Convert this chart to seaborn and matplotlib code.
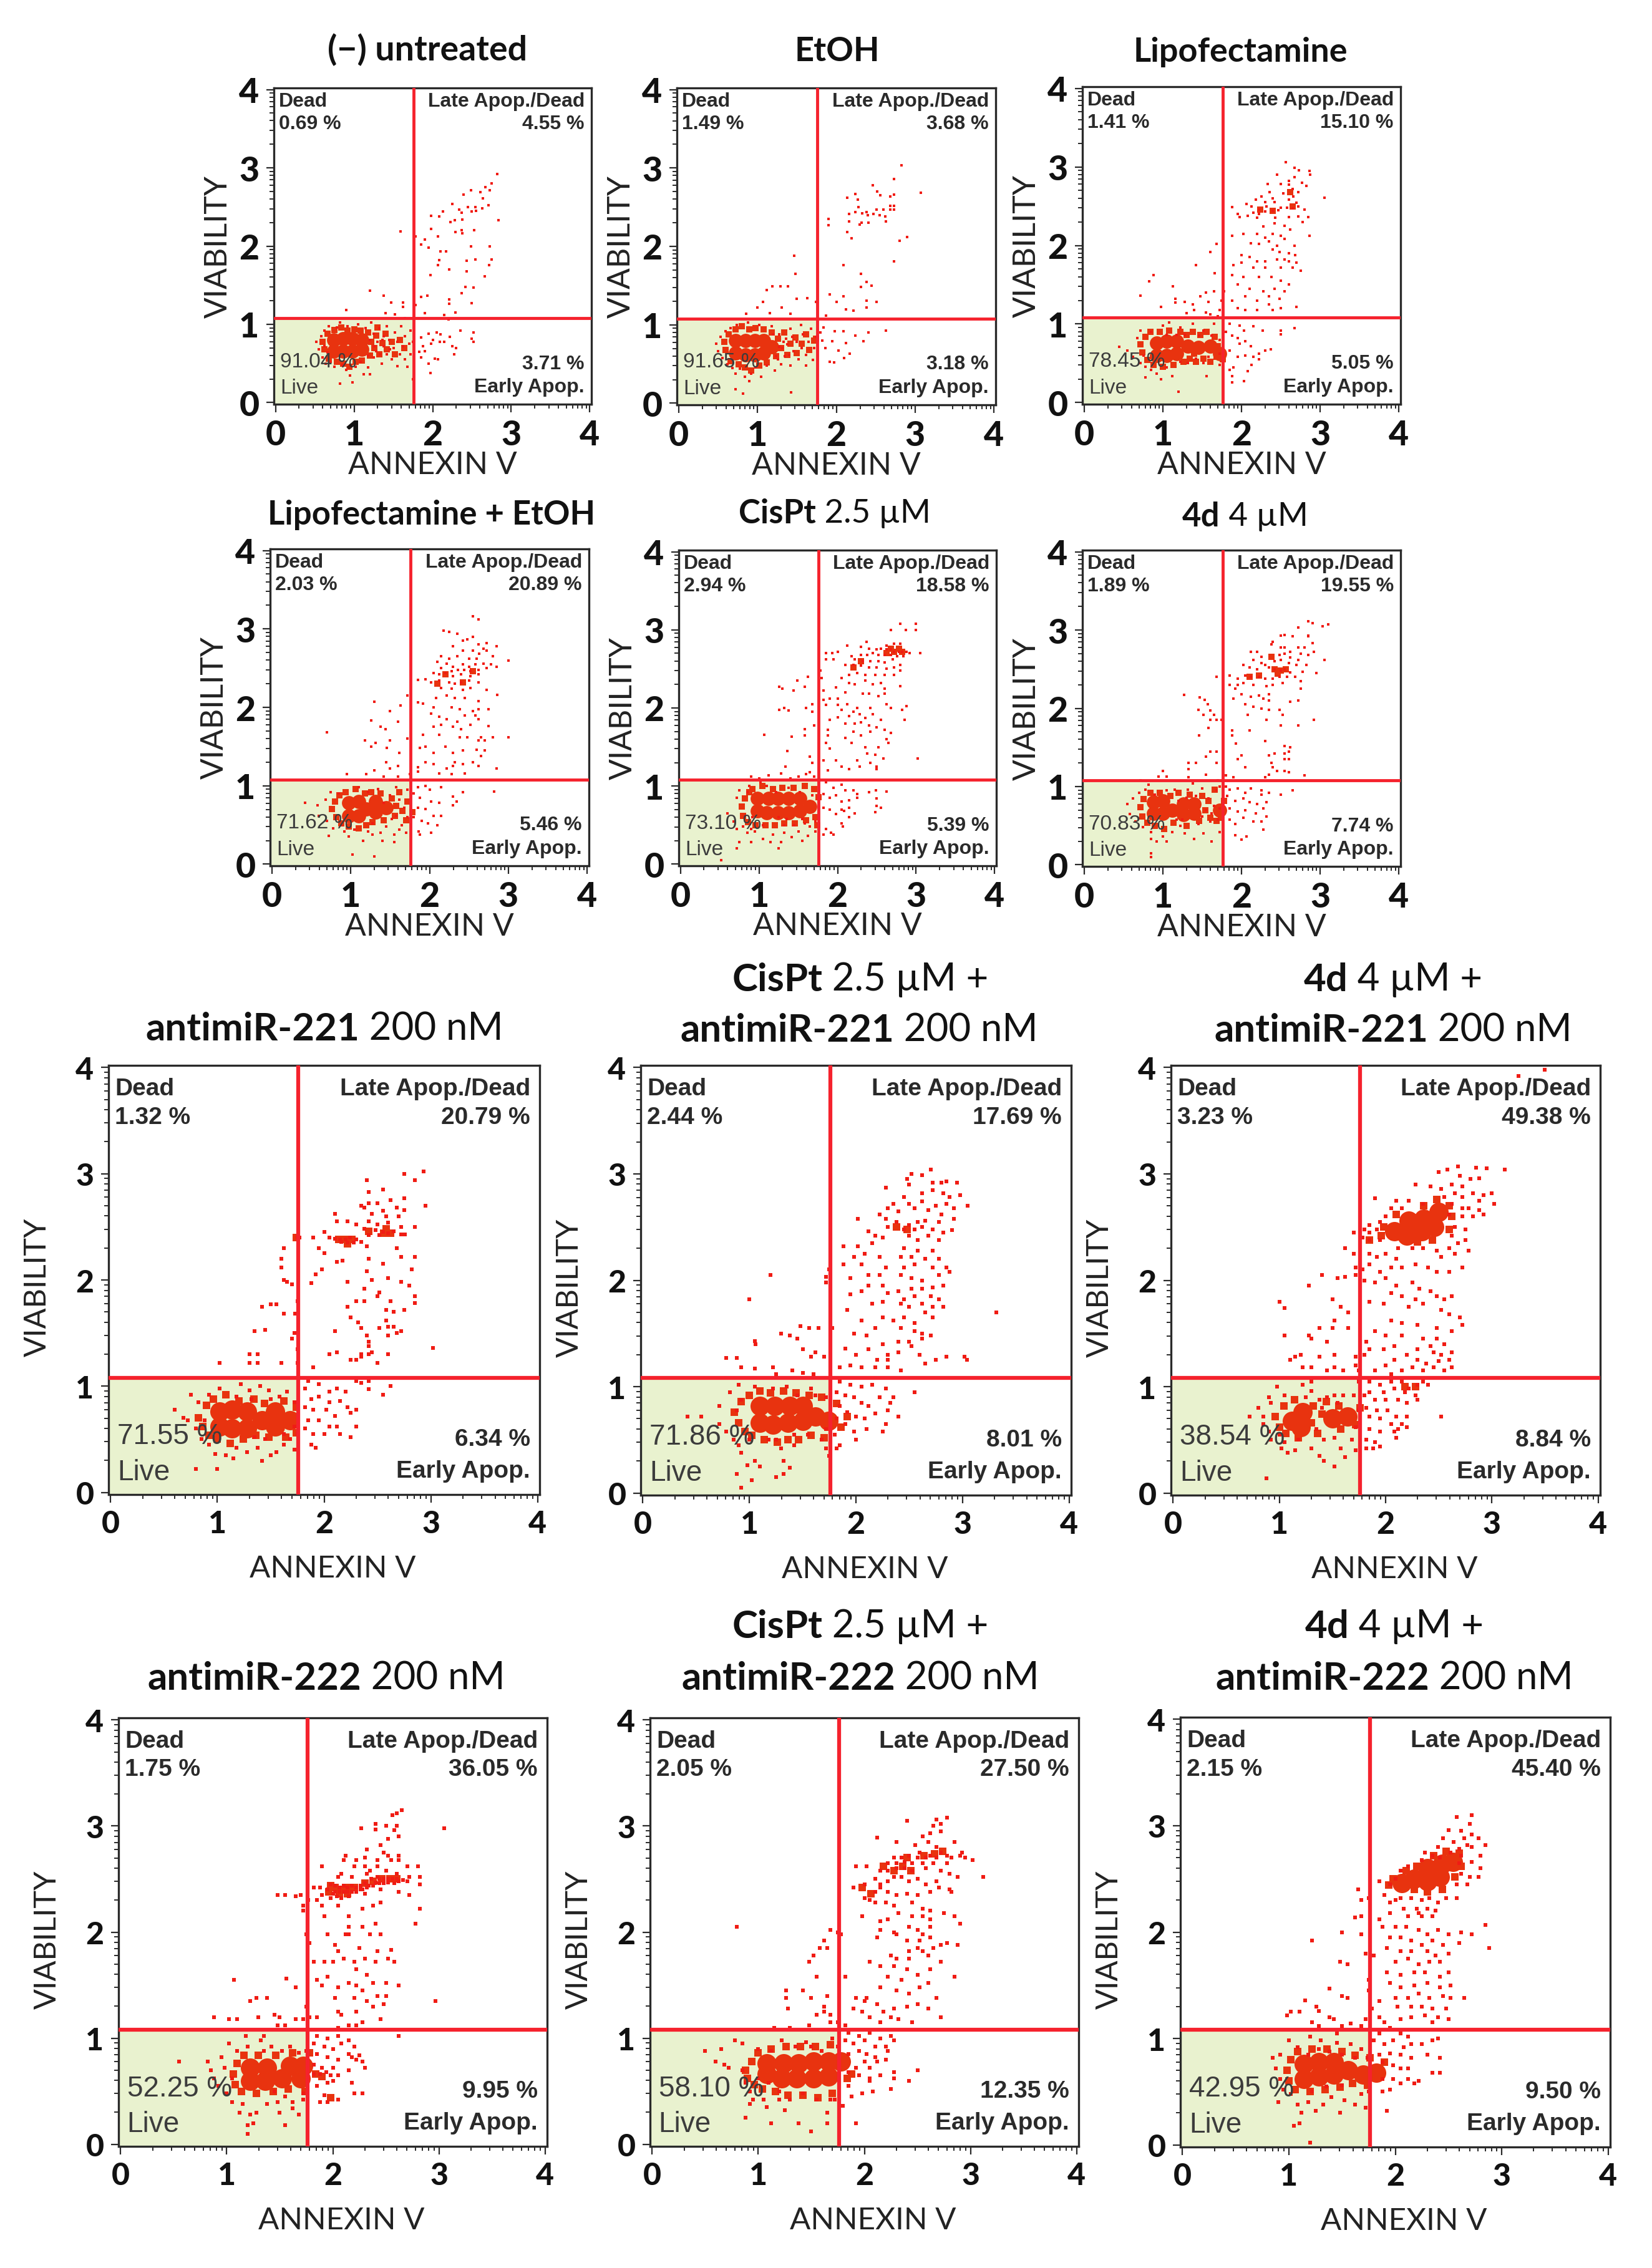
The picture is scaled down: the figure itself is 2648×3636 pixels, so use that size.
import numpy as np
import pandas as pd
import matplotlib
matplotlib.use("Agg")
import matplotlib.pyplot as plt
import seaborn as sns

# points as (annexin, viability)
# core = solid red masses, mass = dense squares around them, dots = single events
untreated_core = [(0.74,0.66),(0.74,0.80),(0.86,0.66),(0.86,0.82),(0.98,0.66),(0.98,0.82),(1.10,0.68),(1.10,0.80)]
untreated_mass = [(0.60,0.78),(0.62,0.68),(0.66,0.88),(0.68,0.56),(0.75,0.93),(0.78,0.52),(0.84,0.96),(0.86,0.50),(0.92,0.92),(0.94,0.46),(1.00,0.94),(1.02,0.52),(1.08,0.92),(1.10,0.54),(1.18,0.90),(1.20,0.60),(1.22,0.78),(1.26,0.70),(1.28,0.86),(1.32,0.62),(1.36,0.76),(1.40,0.88),(1.42,0.68),(1.48,0.78),(1.52,0.62),(1.58,0.80),(1.64,0.70),(1.30,0.96)]
untreated_dots = [(2.82,2.92),(2.75,2.80),(2.67,2.75),(2.73,2.71),(2.61,2.69),(2.49,2.71),(2.39,2.66),(2.64,2.61),(2.71,2.52),(2.63,2.48),(2.54,2.50),(2.50,2.44),(2.55,2.45),(2.45,2.50),(2.37,2.43),(2.34,2.47),(2.25,2.54),(2.23,2.31),(2.28,2.33),(2.38,2.34),(2.08,2.38),(1.98,2.39),(2.13,2.44),(2.84,2.33),(2.53,2.20),(2.37,2.20),(2.38,2.16),(2.29,2.18),(1.98,2.22),(2.07,2.12),(1.59,2.19),(1.78,2.12),(1.90,2.08),(1.85,2.02),(1.95,1.98),(2.49,2.00),(2.73,2.00),(2.10,1.93),(2.17,1.93),(2.08,1.82),(2.07,1.76),(2.43,1.81),(2.54,1.83),(2.75,1.83),(2.72,1.76),(2.21,1.70),(2.43,1.68),(1.97,1.63),(2.66,1.61),(2.42,1.48),(2.52,1.47),(2.37,1.40),(1.20,1.43),(1.93,1.37),(1.85,1.35),(1.38,1.37),(1.47,1.28),(1.62,1.28),(2.21,1.32),(2.21,1.26),(2.50,1.27),(2.29,1.15),(2.15,1.12),(2.20,1.06),(0.90,1.18),(1.62,1.22),(1.78,1.25),(1.90,1.14),(1.40,1.14),(1.52,1.13),(1.65,1.08),
    (1.85,0.83),(1.95,0.88),(2.05,0.90),(2.10,0.87),(2.00,0.80),(1.88,0.72),(1.90,0.66),(1.83,0.65),(1.98,0.75),(2.09,0.78),(2.15,0.78),(2.25,0.72),(2.30,0.70),(2.27,0.62),(2.22,0.84),(2.35,0.92),(2.52,0.90),(2.52,0.78),(2.50,0.82),(2.03,0.56),(1.95,0.50),(2.07,0.55),(1.85,0.58),(1.97,0.38),
    (0.52,0.78),(0.55,0.68),(0.58,0.85),(0.60,0.58),(0.62,0.92),(0.64,0.50),(0.68,0.98),(0.70,0.52),(0.75,0.46),(0.78,0.96),(0.82,0.24),(0.82,1.02),(0.85,0.48),(0.90,0.42),(0.92,0.98),(0.95,0.35),(0.98,0.26),(1.02,0.46),(1.05,1.00),(1.08,0.52),(1.12,0.36),(1.15,0.95),(1.18,0.45),(1.20,0.36),(1.22,1.02),(1.25,0.58),(1.25,0.88),(1.28,0.66),(1.30,0.78),(1.32,0.95),(1.35,0.50),(1.38,0.72),(1.38,0.85),(1.42,0.62),(1.42,0.98),(1.45,0.80),(1.48,0.55),(1.50,0.70),(1.52,0.90),(1.55,0.47),(1.55,0.78),(1.58,0.62),(1.60,0.98),(1.62,0.72),(1.65,0.85),(1.65,0.55),(1.68,0.46),(1.70,0.75),(1.72,0.62),(1.72,0.92),(1.75,0.30),(1.75,0.78),(1.20,0.80),(1.26,0.72),(1.33,0.62),(1.36,0.80),(1.46,0.68),(0.62,0.72),(0.66,0.64),(1.18,0.60)]

etoh_core = [(0.72,0.64),(0.72,0.80),(0.85,0.62),(0.85,0.80),(0.97,0.62),(0.97,0.80),(1.08,0.64),(1.08,0.80),(1.18,0.72)]
etoh_mass = [(0.58,0.78),(0.60,0.68),(0.64,0.88),(0.66,0.54),(0.72,0.94),(0.76,0.50),(0.80,0.98),(0.84,0.46),(0.90,0.94),(0.92,0.42),(0.98,0.96),(1.02,0.48),(1.08,0.94),(1.12,0.52),(1.18,0.90),(1.24,0.60),(1.26,0.82),(1.30,0.70),(1.34,0.90),(1.38,0.62),(1.42,0.76),(1.48,0.84),(1.50,0.64),(1.56,0.76),(1.62,0.88),(1.66,0.68),(1.72,0.80),(1.74,0.82)]
etoh_dots = [(2.83,3.03),(2.73,2.86),(2.46,2.78),(3.07,2.68),(2.73,2.66),(2.68,2.64),(2.52,2.70),(2.56,2.65),(2.24,2.67),(2.14,2.62),(2.27,2.60),(2.28,2.50),(2.73,2.52),(2.68,2.52),(2.73,2.47),(2.68,2.47),(2.60,2.47),(2.51,2.47),(2.24,2.44),(2.38,2.44),(2.33,2.42),(2.40,2.40),(2.47,2.41),(2.55,2.40),(2.62,2.38),(2.63,2.32),(2.16,2.41),(2.16,2.32),(2.30,2.28),(2.32,2.30),(2.41,2.30),(1.90,2.35),(1.90,2.27),(2.14,2.18),(2.19,2.10),(2.80,2.07),(2.90,2.12),(1.47,1.88),(2.73,1.81),(2.09,1.76),(2.31,1.65),(1.48,1.65),(2.38,1.55),(2.45,1.50),(2.31,1.48),
    (1.12,1.44),(1.19,1.49),(1.29,1.49),(1.39,1.49),(1.07,1.29),(1.00,1.22),(1.31,1.22),(1.50,1.33),(1.63,1.34),(1.74,1.29),(1.92,1.39),(2.00,1.29),(2.09,1.36),(2.12,1.20),(2.22,1.18),(2.38,1.31),(2.51,1.29),(2.38,1.22),(0.86,1.14),(1.16,1.15),(1.42,1.14),(1.87,1.12),
    (1.84,0.97),(1.98,0.92),(2.09,0.92),(2.41,0.90),(2.63,0.93),(2.24,0.86),(2.34,0.79),(1.95,0.79),(2.12,0.77),(2.03,0.67),(2.17,0.63),(2.10,0.58),(1.97,0.52),(1.92,0.53),(1.86,0.70),(1.82,0.80),(1.80,0.90),
    (0.48,0.76),(0.50,0.66),(0.53,0.85),(0.56,0.58),(0.60,0.92),(0.62,0.50),(0.66,0.96),(0.68,0.45),(0.72,0.38),(0.74,1.00),(0.72,0.18),(0.82,0.12),(0.78,0.44),(0.84,0.34),(0.88,1.03),(0.90,0.28),(0.92,0.38),(0.98,0.46),(1.02,1.00),(1.05,0.34),(1.12,0.48),(1.18,0.98),(1.22,0.42),(1.26,0.56),(1.28,0.88),(1.32,0.70),(1.35,0.60),(1.36,0.82),(1.42,0.48),(1.42,0.95),(1.46,0.66),(1.50,0.78),(1.52,0.56),(1.55,1.00),(1.56,0.70),(1.58,0.88),(1.62,0.48),(1.62,0.62),(1.65,0.78),(1.68,0.95),(1.70,0.55),(1.72,0.70),(1.74,0.85),(1.28,0.72),(1.38,0.75),(1.30,0.50),(1.44,0.85),(1.40,0.62),(1.43,0.14),(1.33,0.78),(1.20,0.88),(1.24,0.60)]

lipo_core = [(0.92,0.60),(0.92,0.76),(1.05,0.60),(1.05,0.78),(1.18,0.62),(1.18,0.78),(1.32,0.72),(1.45,0.70),(1.60,0.72),(1.72,0.62)]
lipo_mass = [(0.72,0.74),(0.74,0.64),(0.78,0.84),(0.80,0.54),(0.84,0.90),(0.88,0.48),(0.96,0.90),(1.00,0.46),(1.08,0.92),(1.14,0.48),(1.22,0.90),(1.26,0.52),(1.30,0.86),(1.34,0.56),(1.38,0.90),(1.42,0.52),(1.48,0.86),(1.52,0.56),(1.56,0.90),(1.60,0.52),(1.66,0.84),(1.68,0.58),(1.70,0.72),(1.40,0.62),(1.76,0.55),(2.24,2.46),(2.40,2.44),(2.65,2.50),(2.62,2.68)]
lipo_dots = [(2.56,3.06),(2.67,2.99),(2.73,2.96),(2.45,2.90),(2.86,2.95),(2.87,2.90),(2.67,2.87),(2.60,2.82),(2.77,2.80),(2.82,2.76),(2.33,2.78),(2.50,2.78),(2.60,2.77),(2.65,2.72),(2.36,2.68),(2.53,2.66),(2.72,2.68),(2.66,2.62),(2.25,2.62),(2.40,2.60),(2.18,2.58),(2.30,2.55),(2.42,2.55),(2.60,2.58),(2.70,2.54),(3.05,2.61),(2.06,2.53),(2.13,2.50),(2.22,2.46),(2.32,2.50),(2.50,2.48),(2.58,2.48),(2.65,2.47),(2.72,2.50),(2.80,2.46),(2.40,2.44),(2.47,2.45),(2.30,2.43),(2.22,2.40),(2.15,2.42),(1.88,2.49),(1.95,2.40),(1.98,2.36),(2.08,2.38),(2.20,2.35),(2.43,2.35),(2.60,2.36),(2.72,2.37),(2.85,2.36),(2.78,2.30),(2.42,2.28),(2.55,2.25),(2.28,2.24),(2.20,2.15),(2.30,2.10),(2.40,2.15),(2.50,2.12),(2.62,2.20),(2.86,2.12),(1.88,2.12),(2.02,2.15),(2.12,2.03),(2.22,2.02),(2.35,2.05),(2.45,2.00),(2.55,2.08),(2.67,2.00),(2.40,1.95),(2.48,1.92),(2.60,1.90),(2.68,1.88),(2.55,1.82),(2.00,1.88),(2.10,1.85),(2.20,1.80),(2.30,1.80),(2.45,1.82),(2.60,1.80),(2.70,1.78),(1.90,1.75),(2.00,1.78),(2.15,1.72),(2.30,1.72),(2.50,1.72),(2.65,1.72),(2.75,1.68),(1.88,1.62),(2.02,1.60),(2.22,1.60),(2.38,1.60),(2.50,1.55),(2.60,1.50),(1.95,1.50),(2.10,1.45),(2.28,1.42),(2.42,1.45),(2.55,1.42),(1.78,1.42),(1.88,1.30),(2.05,1.35),(2.20,1.30),(2.35,1.35),(2.48,1.32),(2.35,1.25),(2.40,1.18),(2.50,1.20),(2.70,1.22),(2.05,1.18),(2.20,1.18),(1.95,1.20),(1.75,1.30),(1.72,1.18),
    (1.68,2.02),(1.60,1.92),(1.42,1.75),(0.88,1.62),(0.83,1.54),(0.72,1.36),(1.13,1.48),(1.66,1.65),(1.65,1.42),(1.55,1.40),(1.48,1.35),(0.98,1.22),(1.16,1.32),(1.28,1.28),(1.38,1.25),(1.58,1.28),(1.16,1.27),(1.40,1.18),(1.55,1.15),(1.60,1.12),(1.70,1.10),(1.30,1.14),
    (1.85,1.00),(1.98,0.98),(2.03,0.92),(2.15,0.97),(2.27,0.92),(2.50,0.92),(2.67,0.95),(2.50,0.87),(1.80,0.90),(1.88,0.85),(1.95,0.82),(1.98,0.75),(2.05,0.78),(2.12,0.72),(2.22,0.62),(2.37,0.68),(2.30,0.66),(1.85,0.66),(1.95,0.58),(2.05,0.60),(2.15,0.58),(2.22,0.55),(2.13,0.48),(2.08,0.40),(1.90,0.45),(1.88,0.34),(1.88,0.26),(2.03,0.27),(1.85,0.42),
    (0.45,0.71),(0.55,0.66),(0.62,0.58),(0.68,0.82),(0.72,0.92),(0.72,0.50),(0.78,0.46),(0.78,0.32),(0.85,0.90),(0.85,0.42),(0.92,0.37),(0.98,0.30),(1.00,0.98),(1.05,0.45),(1.08,1.02),(1.12,0.34),(1.22,0.52),(1.22,0.96),(1.28,0.86),(1.32,0.50),(1.38,1.00),(1.42,0.56),(1.46,0.85),(1.52,0.50),(1.52,0.92),(1.56,0.34),(1.58,0.58),(1.62,0.85),(1.65,1.00),(1.72,0.48),(1.72,0.80),(1.72,0.62),(1.20,0.14),(0.76,0.60),(1.05,0.86),(1.18,0.86)]

lipo_etoh_core = [(0.98,0.62),(0.98,0.78),(1.10,0.62),(1.10,0.80),(1.20,0.70),(1.32,0.66),(1.32,0.80),(1.45,0.72)]
lipo_etoh_mass = [(0.76,0.70),(0.80,0.80),(0.82,0.60),(0.86,0.88),(0.88,0.52),(0.94,0.92),(0.98,0.48),(1.06,0.96),(1.10,0.46),(1.18,0.90),(1.20,0.50),(1.26,0.92),(1.28,0.54),(1.38,0.90),(1.42,0.56),(1.52,0.84),(1.56,0.62),(1.58,0.74),(1.62,0.92),(1.66,0.68),(1.70,0.56),(1.72,0.80),(1.78,0.66),(2.20,2.42),(2.42,2.32),(2.10,2.30),(2.55,2.46)]
lipo_etoh_dots = [(2.55,3.16),(2.62,3.12),(2.18,2.98),(2.25,2.96),(2.35,2.94),(2.55,2.90),(2.42,2.85),(2.48,2.87),(2.85,2.78),(2.72,2.82),(2.62,2.80),(2.68,2.75),(2.30,2.78),(2.42,2.72),(2.55,2.72),(2.63,2.68),(2.72,2.72),(2.80,2.65),(3.00,2.60),(2.15,2.65),(2.25,2.62),(2.35,2.65),(2.50,2.62),(2.60,2.62),(2.10,2.58),(2.22,2.56),(2.30,2.52),(2.42,2.55),(2.50,2.52),(2.58,2.55),(2.68,2.56),(2.78,2.55),(2.85,2.52),(2.15,2.50),(2.28,2.46),(2.36,2.48),(2.44,2.48),(2.52,2.46),(2.62,2.48),(2.72,2.50),(2.05,2.44),(2.12,2.42),(2.20,2.44),(2.30,2.40),(2.40,2.42),(2.52,2.40),(2.62,2.42),(1.85,2.35),(1.95,2.36),(2.02,2.32),(2.12,2.34),(2.25,2.32),(2.32,2.30),(2.40,2.32),(2.50,2.34),(2.62,2.32),(2.15,2.25),(2.28,2.24),(2.42,2.22),(2.52,2.25),(2.72,2.22),(1.72,2.15),(1.85,2.06),(1.92,2.05),(2.08,2.12),(2.22,2.15),(2.32,2.12),(2.45,2.12),(2.86,2.16),(2.62,2.08),(2.05,2.00),(2.28,2.00),(2.38,1.98),(2.55,1.95),(2.62,1.98),(2.75,1.98),(2.02,1.92),(2.12,1.88),(2.22,1.85),(2.35,1.82),(2.45,1.90),(2.58,1.90),(2.62,1.85),(2.05,1.75),(2.15,1.78),(2.30,1.75),(2.40,1.72),(2.52,1.78),(2.75,1.76),(2.65,1.62),(2.80,1.62),(1.92,1.65),(2.12,1.65),(2.38,1.62),(2.48,1.62),(2.62,1.58),(2.70,1.58),(1.95,1.50),(2.05,1.42),(2.20,1.50),(2.30,1.42),(2.42,1.45),(2.60,1.46),(2.70,1.45),(2.65,1.38),(3.00,1.62),(1.88,1.48),(2.32,1.30),(2.42,1.28),(2.30,1.25),(2.55,1.30),(2.62,1.25),(2.22,1.22),(2.05,1.28),(1.95,1.30),(1.85,1.24),(2.12,1.16),(2.28,1.15),(2.45,1.16),(2.85,1.22),(1.85,1.18),
    (0.70,1.68),(1.30,2.07),(1.63,2.02),(1.50,1.95),(1.26,1.83),(1.60,1.82),(1.38,1.75),(1.44,1.72),(1.32,1.55),(1.26,1.50),(1.18,1.58),(1.50,1.58),(1.46,1.48),(1.62,1.42),(1.72,1.60),(1.45,1.30),(1.60,1.25),(1.50,1.22),(0.95,1.15),(1.20,1.15),(1.30,1.20),(1.60,1.12),(1.75,1.15),(1.42,1.12),
    (1.85,0.98),(1.95,1.00),(2.00,0.95),(2.15,0.98),(2.42,0.92),(2.30,0.86),(2.82,0.93),(1.80,0.90),(1.88,0.85),(2.02,0.80),(2.12,0.78),(2.30,0.75),(2.34,0.80),(1.85,0.72),(1.95,0.70),(2.05,0.62),(2.15,0.62),(1.80,0.60),(1.90,0.55),(1.98,0.52),(2.10,0.50),(2.02,0.40),(1.86,0.42),(1.88,0.38),
    (0.42,0.78),(0.58,0.75),(0.60,0.62),(0.68,0.82),(0.70,0.55),(0.75,0.92),(0.78,0.46),(0.85,0.90),(0.92,0.42),(0.88,0.50),(0.72,0.36),(0.98,0.35),(1.05,0.44),(1.02,0.12),(1.10,0.98),(1.16,0.30),(1.22,0.92),(1.28,0.38),(1.28,0.52),(1.35,0.96),(1.40,0.30),(1.45,0.48),(1.50,0.88),(1.52,0.58),(1.55,0.38),(1.55,0.28),(1.58,0.98),(1.62,0.82),(1.65,0.50),(1.68,0.72),(1.72,0.95),(1.72,0.60),(1.58,0.62),(1.62,0.44),(1.22,0.42),(1.30,0.10),(1.38,0.40),(1.42,0.78),(1.70,0.40)]

cispt_core = [(0.98,0.68),(0.98,0.84),(1.10,0.66),(1.12,0.84),(1.24,0.66),(1.24,0.84),(1.38,0.66),(1.38,0.84),(1.52,0.68),(1.52,0.84),(1.65,0.74)]
cispt_mass = [(0.78,0.74),(0.80,0.62),(0.82,0.84),(0.86,0.54),(0.88,0.92),(0.92,0.96),(0.96,0.50),(1.04,1.00),(1.08,0.50),(1.18,0.96),(1.20,0.50),(1.30,0.98),(1.32,0.52),(1.44,0.98),(1.46,0.52),(1.58,1.00),(1.60,0.56),(1.70,0.96),(1.72,0.60),(1.74,0.50),(1.76,0.86),(2.62,2.70),(2.72,2.72),(2.82,2.72),(2.68,2.76),(2.78,2.76),(2.30,2.60),(2.20,2.52)]
cispt_dots = [(2.80,3.08),(3.00,3.08),(3.00,3.00),(2.68,3.00),(2.87,3.00),(2.37,2.85),(2.12,2.80),(2.62,2.80),(2.72,2.82),(2.80,2.82),(2.55,2.76),(2.62,2.75),(2.68,2.75),(2.72,2.72),(2.78,2.72),(2.82,2.72),(2.88,2.72),(2.92,2.70),(3.05,2.70),(2.30,2.78),(2.40,2.76),(2.50,2.75),(2.30,2.68),(2.38,2.68),(2.45,2.70),(2.52,2.68),(2.60,2.68),(2.68,2.68),(2.76,2.66),(2.84,2.66),(1.85,2.70),(1.93,2.70),(2.00,2.72),(2.18,2.66),(2.22,2.62),(2.32,2.60),(2.42,2.60),(2.52,2.60),(2.60,2.58),(2.70,2.62),(1.85,2.62),(1.95,2.62),(2.10,2.55),(2.20,2.55),(2.30,2.54),(2.40,2.52),(2.50,2.52),(2.62,2.50),(2.72,2.52),(2.80,2.55),(2.15,2.42),(2.25,2.45),(2.35,2.42),(2.48,2.42),(2.60,2.42),(2.72,2.42),(2.80,2.48),(2.05,2.38),(2.15,2.32),(2.22,2.30),(2.35,2.35),(2.45,2.30),(2.55,2.32),(2.60,2.25),(2.80,2.28),(1.98,2.26),(2.10,2.20),(2.32,2.18),(2.40,2.18),(2.60,2.18),(2.52,2.15),(1.78,2.48),(1.80,2.38),(1.82,2.22),(1.90,2.12),(1.82,2.10),(2.00,2.12),(1.85,2.04),(2.00,2.04),(2.12,2.05),(2.05,1.98),(2.25,2.00),(2.42,2.00),(2.62,2.05),(2.68,2.00),(2.88,2.02),(2.82,1.98),(2.20,1.95),(2.28,1.92),(2.15,1.90),(2.35,1.87),(2.45,1.92),(2.55,1.85),(2.85,1.85),(2.00,1.88),(1.90,1.85),(2.10,1.80),(2.22,1.80),(2.30,1.82),(2.40,1.78),(2.60,1.72),(2.68,1.68),(2.50,1.75),(1.88,1.72),(1.88,1.65),(2.20,1.70),(2.30,1.65),(2.42,1.70),(2.62,1.60),(2.65,1.55),(2.10,1.62),(2.18,1.55),(1.85,1.55),(1.90,1.48),(2.35,1.50),(2.38,1.42),(2.52,1.50),(2.48,1.40),(2.58,1.35),(1.98,1.33),(2.25,1.33),(2.42,1.30),(2.50,1.25),(3.02,1.35),(1.82,1.33),(1.88,1.20),(2.05,1.25),(2.15,1.22),(2.28,1.25),(2.50,1.22),
    (1.26,2.27),(1.49,2.35),(1.62,2.40),(1.58,2.27),(1.30,2.25),(1.44,2.22),(1.26,1.98),(1.32,2.00),(1.38,1.97),(1.60,2.00),(1.68,2.05),(1.68,1.95),(1.70,1.78),(1.58,1.73),(1.58,1.65),(1.07,1.66),(1.42,1.63),(1.36,1.45),(1.65,1.38),(1.68,1.30),(1.34,1.25),(1.65,1.18),(1.60,1.15),(1.70,1.12),(0.90,1.12),(1.00,1.10),(1.12,1.14),(1.28,1.16),(1.40,1.10),(1.50,1.12),(1.02,1.05),
    (1.85,1.05),(1.95,0.98),(2.05,1.02),(2.10,0.95),(2.20,0.95),(2.25,0.90),(2.40,0.92),(2.49,0.95),(2.62,0.93),(2.50,0.84),(2.25,0.85),(1.82,0.90),(1.90,0.85),(1.98,0.88),(2.05,0.80),(2.15,0.82),(2.50,0.75),(2.55,0.72),(2.48,0.67),(2.15,0.72),(2.05,0.70),(1.90,0.70),(1.82,0.72),(1.98,0.64),(2.08,0.68),(2.15,0.60),(2.22,0.65),(2.05,0.52),(2.07,0.48),(1.85,0.45),(1.92,0.40),(1.82,0.38),(1.95,0.38),
    (0.60,0.65),(0.68,0.55),(0.72,0.85),(0.75,0.95),(0.72,0.45),(0.80,0.48),(0.82,0.62),(0.85,0.92),(0.85,0.40),(0.88,1.00),(0.90,0.45),(0.95,0.42),(0.75,0.28),(0.90,0.28),(0.72,0.20),(0.52,0.05),(1.05,0.32),(1.05,0.50),(1.10,1.00),(1.15,0.28),(1.18,0.38),(1.22,0.92),(1.25,0.20),(1.28,0.28),(1.32,0.50),(1.32,0.40),(1.38,0.98),(1.42,0.35),(1.45,0.50),(1.50,0.42),(1.52,0.92),(1.55,0.30),(1.58,0.52),(1.62,0.36),(1.65,0.48),(1.68,0.88),(1.72,0.55),(1.72,0.42),(1.25,0.60),(1.35,0.58),(1.55,0.58),(0.92,0.60)]

d4_core = [(0.88,0.66),(0.88,0.80),(1.00,0.66),(1.00,0.82),(1.12,0.70),(1.26,0.64),(1.26,0.78),(1.40,0.66),(1.40,0.78),(1.72,0.70)]
d4_mass = [(0.72,0.74),(0.74,0.62),(0.76,0.84),(0.80,0.54),(0.84,0.92),(0.90,0.50),(0.96,0.92),(1.02,0.46),(1.10,0.88),(1.14,0.54),(1.20,0.92),(1.30,0.50),(1.34,0.90),(1.46,0.56),(1.50,0.88),(1.54,0.70),(1.58,0.82),(1.60,0.60),(1.66,0.96),(1.68,0.56),(1.74,0.60),(1.78,0.82),(2.42,2.50),(2.50,2.48),(2.56,2.50),(2.46,2.44),(2.38,2.66),(2.10,2.40),(2.22,2.42)]
d4_dots = [(2.85,3.11),(2.90,3.09),(3.03,3.05),(3.10,3.07),(2.72,3.03),(2.85,2.93),(2.85,2.92),(2.50,2.93),(2.55,2.94),(2.65,2.92),(2.40,2.85),(2.38,2.82),(2.80,2.78),(2.90,2.83),(2.72,2.78),(2.50,2.78),(2.55,2.78),(2.62,2.72),(2.75,2.70),(2.85,2.68),(2.92,2.72),(3.05,2.62),(2.12,2.72),(2.20,2.72),(2.25,2.66),(2.48,2.68),(2.55,2.70),(2.62,2.65),(2.72,2.62),(2.82,2.55),(2.15,2.62),(2.25,2.58),(2.30,2.55),(2.42,2.60),(2.50,2.62),(2.60,2.58),(2.70,2.55),(2.95,2.45),(2.02,2.55),(2.10,2.52),(2.20,2.50),(2.35,2.52),(2.42,2.50),(2.50,2.48),(2.55,2.50),(2.62,2.46),(2.78,2.47),(1.85,2.42),(1.95,2.38),(2.05,2.42),(2.12,2.40),(2.22,2.40),(2.30,2.38),(2.40,2.38),(2.48,2.40),(2.58,2.40),(2.68,2.40),(2.75,2.35),(1.68,2.40),(1.85,2.30),(1.95,2.30),(2.02,2.32),(2.15,2.30),(2.32,2.28),(2.40,2.30),(2.52,2.32),(2.75,2.25),(2.00,2.18),(1.92,2.25),(2.12,2.15),(2.22,2.16),(2.35,2.18),(2.62,2.08),(2.72,2.10),(1.90,2.12),(2.28,2.12),(2.35,2.10),(2.05,2.05),(2.15,2.02),(2.25,2.00),(2.35,1.98),(2.48,1.98),(2.52,1.92),(2.92,1.85),(2.08,1.92),(2.32,1.85),(2.50,1.78),(2.72,1.78),(2.10,1.72),(1.88,1.72),(1.88,1.65),(1.93,1.55),(2.30,1.58),(2.55,1.52),(2.62,1.50),(2.55,1.42),(2.60,1.45),(2.42,1.42),(2.35,1.40),(2.38,1.30),(2.55,1.35),(2.60,1.35),(2.00,1.40),(1.95,1.35),(2.05,1.25),(2.40,1.25),(2.45,1.20),(2.55,1.20),(2.60,1.18),(2.80,1.14),(1.90,1.12),(2.30,1.12),(2.35,1.15),(1.80,1.14),
    (1.27,2.17),(1.47,2.14),(1.53,2.11),(1.57,2.05),(1.45,1.98),(1.52,1.92),(1.60,1.97),(1.65,1.92),(1.68,1.85),(1.60,1.85),(1.75,1.85),(1.58,1.75),(1.46,1.65),(1.60,1.45),(1.55,1.38),(1.68,1.45),(1.42,1.30),(1.68,1.30),(1.33,1.30),(1.33,1.22),(1.33,1.12),(1.00,1.20),(0.95,1.13),(1.05,1.13),(0.72,1.08),(1.55,1.15),(1.70,1.08),(1.38,1.04),(1.72,1.00),(1.80,1.00),
    (1.85,0.96),(1.95,0.98),(2.05,0.92),(2.12,0.98),(2.25,0.95),(2.25,0.90),(2.35,0.92),(2.50,0.90),(2.65,0.95),(1.82,0.88),(1.92,0.82),(2.02,0.85),(2.10,0.80),(2.20,0.78),(2.32,0.80),(2.28,0.72),(1.85,0.72),(1.95,0.68),(2.05,0.70),(2.18,0.66),(2.32,0.62),(1.85,0.58),(1.92,0.52),(2.02,0.60),(2.15,0.55),(2.25,0.55),(2.28,0.45),(1.92,0.38),(2.00,0.32),(2.06,0.36),
    (0.55,0.78),(0.58,0.65),(0.62,0.85),(0.65,0.55),(0.70,0.92),(0.75,0.48),(0.78,0.96),(0.82,1.02),(0.85,0.42),(0.90,0.90),(0.85,0.33),(0.92,0.30),(1.00,0.36),(1.05,0.95),(1.05,0.30),(0.85,0.15),(0.85,0.10),(1.12,0.42),(1.15,0.96),(1.22,0.50),(1.28,0.40),(1.32,0.96),(1.40,0.33),(1.42,0.88),(1.45,0.52),(1.50,0.98),(1.52,0.40),(1.58,0.85),(1.60,0.55),(1.62,0.30),(1.65,0.75),(1.68,0.95),(1.70,0.58),(1.72,0.42),(1.20,0.82),(1.25,0.58),(1.55,0.70),(1.50,0.62),(1.62,0.66),(1.72,0.72),(1.30,0.86),(1.18,0.58)]

a221_core = [(1.02,0.62),(1.02,0.76),(1.14,0.60),(1.14,0.78),(1.28,0.60),(1.28,0.76),(1.42,0.68),(1.54,0.62),(1.54,0.76),(1.68,0.68)]
a221_mass = [(0.82,0.70),(0.86,0.62),(0.90,0.82),(0.92,0.54),(0.96,0.88),(1.00,0.50),(1.08,0.92),(1.12,0.46),(1.20,0.86),(1.24,0.50),(1.34,0.88),(1.36,0.54),(1.44,0.84),(1.48,0.52),(1.62,0.86),(1.64,0.52),(1.74,0.80),(1.74,0.56),(2.14,2.38),(2.20,2.38),(2.26,2.38),(2.22,2.34),(2.56,2.44),(2.62,2.44),(2.58,2.48),(2.42,2.46),(1.74,2.40)]
a221_dots = [(2.93,3.02),(2.75,3.00),(2.85,2.94),(2.40,2.94),(2.42,2.83),(2.55,2.85),(2.42,2.72),(2.50,2.72),(2.62,2.75),(2.75,2.77),(2.95,2.70),(2.35,2.70),(2.38,2.68),(2.55,2.65),(2.68,2.68),(2.75,2.66),(2.45,2.62),(2.58,2.60),(2.70,2.60),(2.85,2.50),(2.10,2.62),(2.12,2.55),(2.22,2.55),(2.30,2.52),(2.42,2.55),(2.50,2.52),(2.60,2.54),(2.72,2.50),(2.38,2.48),(2.48,2.47),(2.55,2.45),(2.60,2.44),(2.65,2.46),(2.72,2.43),(2.76,2.43),(2.00,2.45),(2.05,2.40),(2.10,2.39),(2.15,2.38),(2.20,2.38),(2.24,2.40),(2.16,2.36),(2.22,2.35),(2.28,2.35),(2.30,2.38),(2.35,2.36),(2.42,2.42),(2.52,2.42),(1.90,2.40),(1.95,2.30),(1.75,2.40),(1.77,2.40),(2.40,2.32),(2.68,2.30),(2.00,2.25),(2.12,2.17),(2.17,2.18),(2.42,2.20),(2.55,2.15),(2.72,2.22),(2.85,2.22),(2.82,2.10),(2.40,2.08),(2.45,2.00),(2.60,2.02),(2.72,1.98),(1.92,2.05),(1.98,2.10),(1.88,1.97),(2.22,1.98),(2.38,1.92),(2.52,1.88),(2.62,1.80),(2.80,1.95),(2.85,1.85),(2.50,1.85),(2.30,1.80),(2.38,1.80),(2.58,1.72),(2.65,1.70),(2.85,1.78),(2.22,1.75),(2.75,1.72),(2.25,1.65),(2.32,1.60),(2.58,1.62),(2.52,1.55),(2.60,1.56),(2.65,1.56),(2.72,1.52),(2.35,1.55),(2.40,1.48),(2.60,1.48),(2.68,1.50),(2.10,1.52),(2.42,1.42),(2.42,1.38),(2.45,1.32),(2.35,1.28),(2.30,1.25),(2.42,1.30),(2.35,1.30),(2.50,1.22),(2.25,1.25),(2.12,1.32),(2.05,1.30),(3.02,1.36),(2.60,1.30),
    (1.62,2.30),(1.60,2.20),(1.60,2.12),(1.62,2.00),(1.65,1.98),(1.70,1.96),(1.42,1.75),(1.50,1.77),(1.55,1.77),(1.62,1.68),(1.75,1.80),(1.73,1.68),(1.35,1.52),(1.45,1.53),(1.70,1.45),(1.72,1.50),(1.75,1.35),(1.30,1.30),(1.38,1.30),(1.30,1.22),(1.38,1.22),(1.60,1.22),(1.02,1.22),(1.75,1.22),(1.90,1.18),(2.30,1.05),(2.35,1.03),(2.42,1.05),(2.62,1.00),
    (1.85,1.05),(1.95,1.02),(2.05,0.95),(2.12,0.98),(2.20,0.95),(2.42,0.97),(2.55,0.92),(1.82,0.98),(1.88,0.88),(1.95,0.90),(2.05,0.85),(2.15,0.86),(2.22,0.80),(1.82,0.80),(1.90,0.78),(2.02,0.78),(2.10,0.72),(2.30,0.78),(2.25,0.75),(1.85,0.68),(1.95,0.68),(2.05,0.62),(2.12,0.62),(1.82,0.60),(1.90,0.55),(2.00,0.55),(1.88,0.45),(1.92,0.42),(2.30,0.62),(2.15,0.55),(2.25,0.52),
    (0.60,0.78),(0.68,0.70),(0.72,0.68),(0.75,0.92),(0.80,0.60),(0.82,0.85),(0.85,0.50),(0.80,0.22),(0.88,0.68),(0.92,0.92),(0.92,0.45),(0.98,0.36),(1.00,0.22),(1.02,0.98),(1.08,0.35),(1.15,0.32),(1.18,0.90),(1.22,1.02),(1.28,0.38),(1.32,0.88),(1.38,0.42),(1.40,1.00),(1.42,0.30),(1.48,0.96),(1.50,0.35),(1.55,0.38),(1.58,0.90),(1.62,0.45),(1.65,0.95),(1.68,0.50),(1.72,0.40),(1.72,0.85),(1.75,0.55),(1.35,0.52),(1.45,0.50),(1.62,0.55),(1.72,0.62),(1.18,0.42),(1.30,0.96),(1.50,0.88)]

cispt_a221_core = [(1.10,0.66),(1.10,0.82),(1.22,0.64),(1.24,0.82),(1.36,0.66),(1.38,0.82),(1.50,0.68),(1.50,0.82),(1.62,0.72),(1.74,0.68)]
cispt_a221_mass = [(0.86,0.76),(0.90,0.66),(0.92,0.86),(0.96,0.58),(1.00,0.92),(1.02,0.54),(1.10,0.96),(1.14,0.50),(1.20,0.94),(1.26,0.48),(1.32,0.96),(1.36,0.50),(1.44,0.94),(1.46,0.50),(1.56,0.92),(1.58,0.54),(1.68,0.90),(1.70,0.52),(1.82,0.84),(1.86,0.62),(1.92,0.72),(2.38,2.50),(2.48,2.48)]
cispt_a221_dots = [(2.70,3.04),(2.52,3.00),(2.62,2.99),(2.48,2.95),(2.72,2.92),(2.80,2.92),(2.85,2.93),(2.95,2.92),(2.28,2.87),(2.50,2.90),(2.62,2.82),(2.72,2.85),(2.82,2.82),(2.88,2.78),(2.98,2.80),(2.35,2.72),(2.50,2.72),(2.62,2.74),(2.75,2.70),(2.85,2.72),(2.92,2.68),(3.05,2.70),(2.45,2.78),(2.30,2.68),(2.40,2.65),(2.55,2.68),(2.68,2.66),(2.80,2.62),(2.22,2.62),(2.28,2.58),(2.38,2.55),(2.50,2.52),(2.58,2.55),(2.65,2.56),(2.78,2.55),(2.92,2.58),(2.02,2.58),(2.30,2.50),(2.45,2.48),(2.55,2.48),(2.62,2.50),(2.72,2.48),(2.82,2.45),(2.90,2.47),(2.12,2.46),(2.18,2.42),(2.25,2.40),(2.50,2.42),(2.58,2.38),(2.68,2.42),(2.78,2.38),(2.15,2.35),(2.45,2.30),(2.58,2.28),(2.72,2.28),(2.02,2.32),(1.88,2.32),(1.98,2.22),(2.08,2.25),(2.22,2.22),(2.42,2.22),(2.52,2.22),(2.65,2.20),(2.78,2.20),(1.88,2.15),(2.05,2.15),(2.28,2.12),(2.45,2.12),(2.55,2.15),(2.72,2.12),(2.85,2.12),(1.95,2.02),(2.12,2.05),(2.22,2.05),(2.42,2.05),(2.52,2.02),(2.62,2.00),(2.78,2.05),(2.88,2.08),(2.12,1.95),(2.25,1.95),(2.40,1.90),(2.52,1.92),(2.62,1.92),(2.72,1.93),(2.82,1.95),(1.95,1.87),(2.05,1.90),(2.30,1.88),(2.45,1.82),(2.55,1.85),(2.70,1.85),(2.78,1.82),(2.15,1.78),(2.25,1.80),(2.42,1.78),(2.50,1.75),(2.62,1.78),(2.72,1.75),(2.82,1.75),(1.92,1.72),(2.05,1.62),(2.25,1.65),(2.35,1.62),(2.45,1.65),(2.55,1.60),(2.65,1.70),(2.72,1.65),(3.32,1.70),(2.18,1.55),(2.42,1.55),(2.55,1.52),(2.62,1.50),(2.70,1.48),(1.98,1.50),(2.10,1.48),(2.25,1.40),(2.40,1.42),(2.50,1.42),(2.62,1.45),(1.90,1.36),(2.00,1.30),(2.12,1.35),(2.30,1.30),(2.40,1.32),(2.52,1.38),(2.60,1.30),(2.75,1.25),(2.85,1.28),(2.20,1.25),(1.95,1.20),(2.05,1.18),(2.18,1.18),(2.30,1.18),(2.42,1.15),(2.30,1.25),(3.02,1.28),(3.04,1.25),(2.65,1.22),
    (1.20,2.05),(1.00,1.82),(1.72,2.03),(1.72,1.98),(1.75,2.10),(1.48,1.57),(1.56,1.55),(1.30,1.50),(1.38,1.48),(1.45,1.45),(1.65,1.55),(1.78,1.55),(1.05,1.43),(1.06,1.40),(1.50,1.35),(1.58,1.28),(1.70,1.28),(1.62,1.32),(0.78,1.27),(0.88,1.27),(0.92,1.18),(1.05,1.17),(1.22,1.18),(1.25,1.12),(1.40,1.15),(1.50,1.13),(1.60,1.12),(1.85,1.18),
    (1.85,1.05),(1.95,1.02),(2.05,1.00),(2.15,1.02),(2.28,0.98),(2.35,0.90),(2.55,0.95),(1.82,0.95),(1.90,0.92),(1.98,0.90),(2.05,0.85),(2.12,0.82),(2.22,0.90),(2.32,0.85),(2.30,0.78),(1.85,0.82),(1.92,0.76),(2.00,0.72),(2.08,0.70),(2.18,0.75),(2.28,0.65),(2.40,0.72),(1.82,0.70),(1.90,0.65),(1.98,0.58),(2.10,0.60),(2.25,0.58),(1.80,0.55),(1.85,0.45),(1.82,0.42),(2.00,0.50),
    (0.42,0.72),(0.55,0.72),(0.72,0.82),(0.72,0.65),(0.78,0.58),(0.82,0.95),(0.85,0.50),(0.88,0.78),(0.90,0.45),(0.92,0.38),(0.90,1.02),(0.92,0.88),(1.00,0.50),(1.05,0.30),(1.10,0.25),(0.98,0.26),(0.92,0.05),(0.88,0.18),(1.02,0.12),(1.25,0.15),(1.32,0.18),(1.38,0.24),(1.30,0.42),(1.32,0.30),(1.25,0.50),(1.42,0.45),(1.45,0.92),(1.55,0.55),(1.58,0.98),(1.62,0.92),(1.68,0.50),(1.72,0.42),(1.72,0.60),(1.75,0.35),(1.18,0.50),(1.22,0.98),(1.35,1.00),(1.42,0.55),(1.05,1.00),(1.72,0.90)]

d4_a221_core = [(1.12,0.68),(1.20,0.62),(1.22,0.76),(1.50,0.70),(1.64,0.72),(2.08,2.46),(2.20,2.42),(2.22,2.56),(2.34,2.46),(2.36,2.58),(2.46,2.50),(2.50,2.64)]
d4_a221_mass = [(0.96,0.72),(1.00,0.62),(1.04,0.82),(1.06,0.56),(1.14,0.88),(1.18,0.52),(1.30,0.66),(1.32,0.82),(1.36,0.56),(1.40,0.74),(1.44,0.86),(1.56,0.82),(1.58,0.60),(1.72,0.64),(1.76,0.80),(1.96,2.42),(1.98,2.50),(2.10,2.62),(2.30,2.36),(2.44,2.38),(2.60,2.48),(2.62,2.60),(2.60,2.70),(2.48,2.76),(2.36,2.70),(1.85,2.38),(2.18,1.00),(2.28,1.00)]
d4_a221_dots = [(3.50,3.98),(3.25,3.92),(2.68,3.07),(2.85,3.06),(2.95,3.05),(3.12,3.04),(2.50,3.02),(2.58,3.04),(2.70,2.98),(2.80,2.95),(2.88,2.96),(2.62,2.90),(2.72,2.88),(2.28,2.90),(2.42,2.88),(2.52,2.86),(2.65,2.82),(2.55,2.78),(2.72,2.78),(2.82,2.82),(2.88,2.75),(2.92,2.80),(3.00,2.82),(3.02,2.72),(1.90,2.77),(2.10,2.75),(2.22,2.75),(2.35,2.72),(2.62,2.72),(2.72,2.68),(2.78,2.68),(2.88,2.66),(2.05,2.68),(2.15,2.68),(2.60,2.62),(2.72,2.60),(2.82,2.60),(2.92,2.62),(1.95,2.55),(2.00,2.60),(1.85,2.52),(1.92,2.48),(1.80,2.48),(2.65,2.50),(2.75,2.48),(2.62,2.42),(1.78,2.40),(1.85,2.38),(1.95,2.38),(1.85,2.45),(2.68,2.35),(2.75,2.38),(2.12,2.30),(2.25,2.30),(2.35,2.30),(2.48,2.28),(2.60,2.30),(1.70,2.45),(1.62,2.30),(1.70,2.25),(1.85,2.25),(1.92,2.22),(2.00,2.25),(2.10,2.20),(2.52,2.22),(2.65,2.25),(2.78,2.28),(1.72,2.12),(1.78,2.10),(1.85,2.15),(1.95,2.08),(2.05,2.12),(2.15,2.12),(2.28,2.15),(2.40,2.12),(2.48,2.08),(2.60,2.08),(2.72,2.12),(1.72,2.05),(1.80,2.00),(1.90,1.98),(2.00,2.02),(2.10,1.95),(2.25,1.98),(2.32,1.92),(2.42,1.90),(2.05,1.88),(2.15,1.85),(2.28,1.82),(2.48,1.85),(2.55,1.82),(2.62,1.85),(1.85,1.80),(1.98,1.78),(2.22,1.75),(2.35,1.78),(2.52,1.72),(2.60,1.68),(2.70,1.65),(2.72,1.58),(2.05,1.62),(2.15,1.60),(2.30,1.58),(2.48,1.55),(2.62,1.52),(1.90,1.52),(2.00,1.48),(2.15,1.48),(2.35,1.45),(2.48,1.45),(1.98,1.35),(2.08,1.38),(2.30,1.35),(2.42,1.38),(2.55,1.40),(2.45,1.32),(2.52,1.30),(2.62,1.32),(1.85,1.35),(1.80,1.30),(1.82,1.42),(2.08,1.25),(2.20,1.30),(2.30,1.25),(2.38,1.22),(2.50,1.24),(2.60,1.25),(2.62,1.18),(2.15,1.15),(2.25,1.18),(2.35,1.15),(2.45,1.18),(2.55,1.15),(1.90,1.15),(2.00,1.20),(2.05,1.12),
    (1.40,2.05),(1.55,2.02),(1.62,2.03),(1.28,1.95),(1.00,1.80),(1.05,1.74),(1.50,1.82),(1.58,1.75),(1.65,1.70),(1.52,1.62),(1.38,1.55),(1.28,1.48),(1.50,1.55),(1.45,1.42),(1.65,1.55),(1.30,1.45),(1.05,1.48),(1.38,1.28),(1.52,1.30),(1.72,1.28),(1.72,1.20),(1.15,1.28),(1.20,1.30),(1.10,1.25),(1.22,1.18),(1.30,1.18),(1.45,1.15),(1.52,1.18),(1.60,1.15),(1.75,1.15),(1.75,1.05),(1.30,1.05),(1.00,1.08),
    (1.85,1.05),(1.95,1.02),(2.05,1.05),(2.15,1.05),(2.22,0.98),(2.30,1.02),(2.35,1.05),(2.28,0.92),(2.18,0.95),(2.08,0.98),(1.98,0.95),(1.85,0.95),(1.80,0.92),(1.90,0.88),(2.00,0.88),(2.12,0.88),(2.20,0.85),(2.30,0.88),(2.40,1.02),(1.82,0.80),(1.92,0.78),(2.02,0.78),(2.10,0.72),(2.20,0.72),(1.85,0.72),(1.95,0.70),(2.05,0.65),(2.15,0.65),(2.12,0.60),(2.20,0.62),(1.85,0.60),(1.95,0.58),(2.08,0.58),(1.82,0.50),(1.90,0.48),(1.95,0.44),(2.10,0.52),(1.88,0.42),(2.52,0.72),(1.82,0.42),
    (0.72,0.72),(0.85,0.72),(0.85,0.65),(0.80,0.80),(0.90,0.90),(0.92,0.85),(0.90,0.58),(0.92,0.50),(0.98,1.00),(1.05,0.92),(1.00,0.55),(1.05,0.48),(1.02,0.42),(1.08,0.38),(1.15,0.40),(1.18,0.50),(1.22,1.02),(1.25,0.90),(1.30,0.42),(1.30,0.96),(1.38,0.35),(1.42,0.50),(1.45,0.90),(1.42,0.30),(1.52,0.52),(1.52,0.92),(1.58,0.42),(1.60,0.92),(1.62,0.34),(1.68,0.50),(1.72,0.40),(1.70,0.92),(1.75,0.78),(0.88,0.14),(1.52,0.25),(1.35,0.60),(1.40,0.80),(1.72,0.62),(1.55,0.85),(1.38,0.88)]

a222_core = [(1.22,0.60),(1.22,0.72),(1.36,0.60),(1.38,0.72),(1.52,0.62),(1.60,0.74),(1.70,0.62),(1.72,0.74)]
a222_mass = [(1.06,0.66),(1.08,0.56),(1.10,0.76),(1.14,0.50),(1.16,0.84),(1.28,0.48),(1.30,0.84),(1.44,0.50),(1.46,0.84),(1.58,0.52),(1.62,0.86),(1.74,0.50),(1.78,0.86),(1.84,0.66),(1.90,0.64),(1.98,0.44),(1.96,2.38),(2.02,2.42),(2.08,2.40),(2.14,2.42),(2.20,2.42),(1.98,2.44),(2.06,2.36),(2.14,2.36),(2.30,2.46),(2.38,2.48),(2.46,2.50),(2.54,2.50),(2.60,2.50)]
a222_dots = [(2.65,3.15),(2.60,3.12),(2.56,3.10),(3.05,2.98),(2.27,2.98),(2.40,3.02),(2.40,2.97),(2.50,3.00),(2.60,3.00),(2.58,2.96),(2.62,2.90),(2.52,2.88),(2.45,2.82),(2.48,2.75),(2.32,2.78),(2.22,2.68),(2.42,2.68),(2.52,2.72),(2.62,2.72),(2.55,2.68),(2.30,2.70),(2.12,2.72),(2.10,2.68),(2.62,2.68),(2.70,2.62),(2.80,2.62),(2.82,2.52),(1.90,2.62),(2.08,2.55),(2.20,2.62),(2.30,2.62),(2.35,2.58),(2.42,2.62),(2.50,2.58),(2.60,2.55),(2.72,2.52),(2.82,2.45),(2.70,2.48),(1.98,2.45),(2.05,2.52),(2.18,2.52),(2.32,2.55),(2.42,2.52),(2.44,2.50),(2.48,2.50),(2.52,2.50),(2.56,2.50),(2.60,2.50),(2.62,2.48),(2.66,2.49),(2.36,2.50),(2.40,2.47),(2.44,2.46),(2.48,2.46),(2.52,2.47),(2.58,2.46),(2.30,2.46),(2.34,2.44),(2.38,2.44),(2.28,2.40),(2.32,2.42),(2.02,2.44),(2.06,2.42),(2.10,2.44),(2.14,2.42),(2.18,2.44),(2.22,2.42),(2.26,2.44),(2.02,2.38),(2.06,2.38),(2.10,2.38),(2.14,2.38),(2.18,2.38),(2.22,2.38),(2.26,2.40),(1.82,2.42),(1.88,2.42),(1.95,2.40),(2.00,2.36),(2.04,2.34),(1.90,2.35),(1.98,2.32),(2.08,2.32),(2.15,2.34),(2.30,2.36),(2.45,2.40),(2.62,2.38),(2.72,2.35),(1.70,2.35),(1.65,2.34),(1.55,2.35),(1.48,2.35),(1.77,2.30),(1.72,2.20),(1.72,2.25),(1.85,2.30),(1.90,2.25),(1.92,2.15),(2.05,2.25),(2.15,2.15),(2.28,2.22),(2.38,2.25),(2.45,2.28),(2.82,2.22),(2.15,2.05),(2.28,2.05),(2.40,2.08),(2.35,1.98),(2.45,1.98),(2.78,2.08),(1.75,1.98),(1.78,1.90),(1.95,1.98),(2.12,1.98),(2.15,1.98),(2.02,1.88),(2.05,1.82),(2.25,1.85),(2.42,1.82),(2.55,1.83),(1.82,1.72),(1.92,1.72),(2.00,1.72),(2.10,1.75),(2.20,1.72),(2.30,1.75),(2.40,1.72),(2.52,1.75),(2.58,1.72),(1.85,1.55),(1.95,1.58),(2.22,1.65),(2.32,1.60),(2.22,1.50),(2.38,1.52),(2.50,1.52),(2.62,1.50),(1.90,1.50),(2.05,1.48),(2.15,1.52),(2.28,1.45),(2.42,1.40),(2.50,1.40),(2.02,1.38),(2.20,1.38),(2.32,1.35),(2.38,1.30),(2.48,1.32),(2.97,1.35),(1.75,1.30),(2.05,1.25),(2.08,1.22),(2.22,1.25),(2.45,1.18),(2.28,1.15),
    (1.07,1.55),(1.56,1.56),(1.65,1.48),(1.22,1.35),(1.28,1.38),(1.38,1.38),(1.65,1.18),(1.72,1.18),(1.78,1.20),(0.88,1.20),(1.02,1.18),(1.10,1.18),(1.30,1.20),(1.45,1.22),(1.50,1.20),(1.85,1.20),(1.48,1.12),(1.55,1.12),(1.60,1.08),(2.15,1.12),(2.05,1.10),(2.22,1.12),
    (1.85,1.02),(1.95,1.00),(2.05,1.02),(2.15,0.98),(2.62,1.02),(1.82,0.95),(1.92,0.92),(2.00,0.90),(2.08,0.95),(2.20,0.92),(1.85,0.85),(1.95,0.82),(2.05,0.80),(2.15,0.85),(2.18,0.82),(2.25,0.84),(2.28,0.78),(2.22,0.80),(1.82,0.75),(1.90,0.72),(2.00,0.72),(2.30,0.72),(1.82,0.66),(1.88,0.66),(1.94,0.68),(1.98,0.65),(2.05,0.65),(2.15,0.70),(1.85,0.55),(1.95,0.58),(2.00,0.60),(1.92,0.46),(1.95,0.40),(2.20,0.48),(1.88,0.40),(2.05,0.42),(2.28,0.48),(2.18,0.58),
    (0.55,0.78),(0.82,0.78),(0.85,0.70),(0.88,0.62),(0.92,0.55),(0.95,0.82),(0.98,0.72),(1.00,0.48),(1.02,0.95),(1.05,0.62),(1.05,0.40),(1.10,0.88),(1.12,0.30),(1.15,0.38),(1.18,1.02),(1.20,0.92),(1.22,0.28),(1.25,0.20),(1.20,0.18),(1.20,0.10),(1.28,0.30),(1.32,0.98),(1.35,0.88),(1.38,0.38),(1.42,0.92),(1.48,0.40),(1.50,0.30),(1.52,0.88),(1.55,0.45),(1.60,0.92),(1.62,0.40),(1.62,0.34),(1.68,0.28),(1.72,0.42),(1.75,0.88),(1.68,0.86),(1.55,0.18),(1.35,1.02),(1.45,0.50),(1.72,0.48)]

cispt_a222_core = [(1.08,0.66),(1.08,0.76),(1.22,0.62),(1.24,0.76),(1.36,0.62),(1.38,0.76),(1.52,0.62),(1.52,0.78),(1.66,0.64),(1.66,0.78),(1.78,0.78)]
cispt_a222_mass = [(0.88,0.70),(0.90,0.62),(0.94,0.78),(0.96,0.56),(1.00,0.86),(1.04,0.52),(1.12,0.90),(1.16,0.50),(1.26,0.92),(1.28,0.46),(1.40,0.92),(1.42,0.46),(1.54,0.92),(1.56,0.44),(1.68,0.94),(1.70,0.48),(1.84,0.62),(1.88,0.66),(2.28,2.58),(2.36,2.62),(2.44,2.58),(2.56,2.72),(2.66,2.74),(2.74,2.76),(2.18,2.62),(2.40,2.70),(1.98,2.42),(2.06,2.36)]
cispt_a222_dots = [(2.78,3.08),(2.68,3.06),(2.72,3.02),(2.65,3.00),(2.40,3.05),(2.72,2.95),(2.62,2.93),(2.55,2.90),(2.12,2.89),(2.30,2.85),(2.48,2.82),(2.60,2.85),(2.68,2.80),(2.85,2.85),(2.52,2.75),(2.62,2.72),(2.72,2.75),(2.78,2.72),(2.82,2.70),(2.90,2.72),(2.92,2.75),(2.95,2.70),(3.02,2.68),(2.58,2.70),(2.68,2.70),(2.50,2.70),(2.42,2.72),(2.28,2.70),(2.35,2.70),(2.22,2.65),(2.30,2.65),(2.38,2.66),(2.45,2.65),(2.55,2.65),(2.65,2.65),(2.78,2.65),(1.92,2.62),(2.02,2.62),(2.15,2.58),(2.22,2.58),(2.30,2.60),(2.38,2.60),(2.45,2.58),(2.58,2.60),(2.72,2.58),(2.80,2.55),(2.88,2.52),(3.12,2.52),(2.00,2.45),(2.10,2.50),(2.15,2.45),(2.22,2.48),(2.28,2.52),(2.35,2.52),(2.42,2.48),(2.50,2.50),(2.58,2.45),(2.68,2.48),(2.70,2.42),(2.80,2.40),(2.10,2.38),(2.15,2.42),(2.22,2.38),(2.30,2.35),(2.40,2.36),(2.50,2.35),(2.62,2.38),(2.82,2.38),(1.90,2.42),(2.00,2.32),(2.05,2.30),(2.10,2.28),(2.20,2.28),(2.28,2.25),(2.45,2.28),(2.55,2.22),(2.62,2.20),(1.98,2.15),(2.15,2.10),(2.22,2.12),(2.32,2.18),(2.45,2.15),(2.55,2.15),(2.62,2.12),(2.75,2.18),(2.85,2.15),(2.15,2.02),(2.28,2.00),(2.42,2.05),(2.50,2.02),(2.62,2.05),(2.90,2.08),(2.12,1.95),(2.30,1.98),(2.40,1.92),(2.52,1.92),(2.55,1.98),(2.62,1.95),(2.72,1.88),(2.78,1.90),(2.88,1.88),(2.42,1.82),(2.50,1.85),(2.55,1.82),(2.25,1.78),(2.30,1.75),(2.42,1.75),(2.60,1.78),(2.65,1.85),(2.72,1.72),(2.05,1.72),(2.15,1.68),(2.28,1.68),(2.40,1.65),(2.50,1.60),(2.62,1.65),(2.85,1.58),(2.22,1.58),(2.35,1.55),(2.60,1.52),(2.15,1.48),(2.30,1.45),(2.42,1.42),(2.52,1.48),(2.68,1.38),(2.02,1.38),(1.92,1.38),(2.00,1.35),(2.12,1.32),(2.18,1.25),(2.28,1.28),(2.40,1.30),(2.50,1.32),(2.60,1.28),(1.90,1.28),(1.98,1.25),(2.05,1.20),(2.15,1.15),(2.25,1.20),(2.32,1.18),(2.45,1.15),(2.72,1.20),
    (0.80,2.05),(1.68,2.02),(1.62,1.92),(1.65,1.85),(1.58,1.85),(1.75,2.00),(1.78,1.98),(1.52,1.78),(1.48,1.72),(1.55,1.58),(1.82,1.58),(1.26,1.45),(1.42,1.45),(1.26,1.38),(1.50,1.38),(1.62,1.30),(1.65,1.40),(1.28,1.28),(1.55,1.22),(1.62,1.25),(1.68,1.15),(1.75,1.15),(1.68,1.22),(1.82,1.12),(1.48,1.12),(1.15,1.10),(1.30,1.10),
    (1.85,1.05),(1.95,1.02),(2.05,1.05),(2.15,1.00),(2.25,1.02),(1.82,0.98),(1.90,0.95),(2.00,0.98),(2.10,0.92),(2.28,0.98),(2.20,0.92),(1.85,0.85),(1.95,0.88),(2.02,0.85),(2.10,0.82),(2.22,0.88),(2.00,0.78),(1.92,0.72),(2.05,0.72),(2.12,0.78),(2.20,0.80),(1.85,0.68),(1.95,0.65),(2.05,0.62),(2.15,0.65),(2.28,0.68),(2.50,0.70),(2.42,0.60),(2.28,0.62),(1.85,0.55),(1.88,0.45),(1.98,0.48),(2.25,0.52),(1.92,0.20),(1.80,0.36),(2.05,0.60),(2.08,0.50),
    (0.50,0.88),(0.60,0.78),(0.68,0.75),(0.65,0.90),(0.72,0.72),(0.78,0.98),(0.85,0.95),(0.85,0.70),(0.88,0.58),(0.92,0.50),(0.92,0.38),(0.88,0.25),(0.95,0.42),(1.00,0.90),(1.05,0.42),(1.08,0.35),(1.12,0.88),(1.12,0.20),(1.20,0.42),(1.25,0.32),(1.22,0.98),(1.30,0.42),(1.35,0.92),(1.42,0.48),(1.50,0.12),(1.50,0.92),(1.55,0.42),(1.60,0.88),(1.68,0.42),(1.65,0.30),(1.65,0.20),(1.72,0.42),(1.75,0.92),(1.38,0.20),(1.20,0.50),(1.45,0.96),(1.70,1.00),(1.00,0.62),(1.10,0.58)]

d4_a222_core = [(1.14,0.62),(1.14,0.76),(1.28,0.64),(1.28,0.78),(1.42,0.66),(1.42,0.78),(1.56,0.70),(1.70,0.66),(1.82,0.68),(2.06,2.46),(2.18,2.50),(2.30,2.48),(2.30,2.60),(2.42,2.52),(2.44,2.64),(2.54,2.66)]
d4_a222_mass = [(0.98,0.70),(1.00,0.60),(1.02,0.80),(1.06,0.52),(1.08,0.88),(1.20,0.50),(1.22,0.90),(1.34,0.52),(1.36,0.90),(1.48,0.54),(1.50,0.88),(1.60,0.58),(1.62,0.84),(1.74,0.56),(1.76,0.82),(1.90,0.78),(1.94,2.44),(1.98,2.50),(2.10,2.58),(2.18,2.40),(2.30,2.38),(2.44,2.40),(2.56,2.52),(2.62,2.62),(2.60,2.74),(2.48,2.76),(2.36,2.72),(2.20,2.62)]
d4_a222_dots = [(2.72,3.10),(2.58,3.08),(2.70,3.02),(2.62,2.95),(2.72,2.92),(2.50,2.96),(2.65,2.88),(2.78,2.88),(2.55,2.85),(2.68,2.82),(2.45,2.88),(2.40,2.80),(2.60,2.78),(2.72,2.80),(2.80,2.72),(2.85,2.82),(2.28,2.75),(2.35,2.72),(2.52,2.75),(2.62,2.72),(2.25,2.68),(2.42,2.70),(2.60,2.65),(2.72,2.66),(2.80,2.60),(2.78,2.52),(2.05,2.58),(2.12,2.62),(2.62,2.55),(2.70,2.52),(1.85,2.48),(1.95,2.45),(2.00,2.50),(2.58,2.45),(2.68,2.45),(1.90,2.35),(1.95,2.28),(2.00,2.30),(2.05,2.32),(2.15,2.32),(2.25,2.30),(2.32,2.32),(2.40,2.28),(2.48,2.32),(2.58,2.32),(2.30,2.22),(2.38,2.20),(2.22,2.18),(1.68,2.30),(1.75,2.32),(1.65,2.40),(2.08,2.22),(2.12,2.15),(2.20,2.22),(2.25,2.15),(2.35,2.15),(1.85,2.12),(1.95,2.18),(1.88,2.05),(2.00,2.05),(2.10,2.05),(2.22,2.02),(2.30,1.98),(2.40,2.02),(2.50,1.98),(2.62,2.00),(2.72,1.98),(2.85,2.07),(1.95,1.95),(2.05,1.95),(2.15,1.92),(2.25,1.88),(2.35,1.92),(2.45,1.88),(2.60,1.90),(2.88,1.85),(1.72,1.80),(1.80,1.78),(1.92,1.85),(2.05,1.82),(2.15,1.82),(2.30,1.82),(2.38,1.78),(2.50,1.80),(2.00,1.72),(2.12,1.75),(2.22,1.70),(2.32,1.72),(2.42,1.72),(1.92,1.62),(2.05,1.60),(2.18,1.62),(2.28,1.62),(2.42,1.58),(2.50,1.62),(1.95,1.52),(2.05,1.48),(2.18,1.50),(2.30,1.52),(2.42,1.48),(2.52,1.50),(2.00,1.38),(2.12,1.38),(2.22,1.42),(2.32,1.38),(2.45,1.40),(2.52,1.38),(2.65,1.38),(1.85,1.35),(2.02,1.30),(2.15,1.30),(2.25,1.30),(2.35,1.28),(2.48,1.28),(2.40,1.20),(2.50,1.18),(1.90,1.15),(2.05,1.18),(2.15,1.20),(2.28,1.22),(2.35,1.15),(1.85,1.20),(1.75,1.45),(1.78,1.28),
    (1.22,1.92),(1.50,2.00),(1.68,1.98),(1.62,2.14),(1.68,2.15),(1.48,1.72),(1.55,1.70),(1.72,1.80),(1.75,1.55),(1.38,1.47),(1.50,1.40),(1.15,1.36),(1.26,1.30),(1.55,1.38),(1.28,1.26),(0.98,1.22),(1.02,1.25),(1.10,1.25),(1.22,1.15),(1.38,1.20),(1.42,1.18),(1.68,1.12),(1.72,1.18),(1.50,1.12),(1.58,1.14),(1.65,1.08),(1.45,1.05),(1.55,1.08),(1.28,1.12),
    (1.85,1.05),(1.95,1.10),(2.05,1.05),(2.12,1.02),(2.22,1.08),(2.35,0.98),(2.25,0.95),(1.80,0.98),(1.90,0.95),(1.98,0.98),(2.08,0.92),(2.15,0.95),(2.40,1.00),(1.85,0.85),(1.95,0.86),(2.05,0.85),(2.15,0.82),(2.30,0.85),(2.42,0.82),(1.88,0.78),(1.98,0.75),(2.05,0.72),(2.12,0.72),(2.42,0.68),(2.35,0.68),(1.88,0.62),(1.98,0.62),(2.05,0.58),(2.12,0.62),(2.22,0.60),(1.95,0.52),(1.88,0.50),(2.18,0.58),(1.92,0.32),
    (0.85,0.82),(0.88,0.72),(0.92,0.85),(0.92,0.62),(0.95,0.52),(0.90,0.40),(1.00,0.98),(1.02,0.48),(1.08,0.92),(1.08,0.38),(1.12,0.30),(1.10,0.20),(1.05,0.18),(1.18,0.40),(1.20,1.02),(1.22,0.50),(1.25,0.32),(1.30,0.98),(1.32,0.38),(1.38,0.88),(1.40,0.45),(1.45,0.96),(1.48,0.30),(1.52,0.42),(1.58,0.95),(1.62,0.38),(1.68,0.90),(1.68,0.48),(1.72,0.35),(1.75,0.50),(1.20,0.02),(1.50,0.85),(1.35,0.55),(1.50,0.56),(1.62,0.82),(1.74,0.82),(1.18,0.85),(1.28,0.90)]

panel_points = [(untreated_core, untreated_mass, untreated_dots), (etoh_core, etoh_mass, etoh_dots), (lipo_core, lipo_mass, lipo_dots),
                (lipo_etoh_core, lipo_etoh_mass, lipo_etoh_dots), (cispt_core, cispt_mass, cispt_dots), (d4_core, d4_mass, d4_dots),
                (a221_core, a221_mass, a221_dots), (cispt_a221_core, cispt_a221_mass, cispt_a221_dots), (d4_a221_core, d4_a221_mass, d4_a221_dots),
                (a222_core, a222_mass, a222_dots), (cispt_a222_core, cispt_a222_mass, cispt_a222_dots), (d4_a222_core, d4_a222_mass, d4_a222_dots)]

dead_pct = ["0.69", "1.49", "1.41", "2.03", "2.94", "1.89", "1.32", "2.44", "3.23", "1.75", "2.05", "2.15"]
late_pct = ["4.55", "3.68", "15.10", "20.89", "18.58", "19.55", "20.79", "17.69", "49.38", "36.05", "27.50", "45.40"]
early_pct = ["3.71", "3.18", "5.05", "5.46", "5.39", "7.74", "6.34", "8.01", "8.84", "9.95", "12.35", "9.50"]
live_pct = ["91.04", "91.65", "78.45", "71.62", "73.10", "70.83", "71.55", "71.86", "38.54", "52.25", "58.10", "42.95"]

# panel frames in pixels: left, right, top, bottom
frames = [(439, 948, 142, 649), (1085, 1596, 142, 650), (1735, 2245, 140, 649),
          (433, 944, 881, 1389), (1088, 1597, 883, 1389), (1735, 2245, 883, 1390),
          (174, 865, 1709, 2397), (1027, 1717, 1709, 2398), (1877, 2565, 1709, 2398),
          (190, 877, 2755, 3442), (1042, 1729, 2755, 3442), (1892, 2581, 2754, 3443)]

# title lines: (bold part, regular part, centre x, centre y, size)
title_lines = [("(\u2212) untreated", "", 685, 80, 40), ("EtOH", "", 1342, 82, 39), ("Lipofectamine", "", 1988, 84, 39),
               ("Lipofectamine + EtOH", "", 692, 826, 38), ("CisPt", " 2.5 \u00b5M", 1338, 824, 38), ("4d", " 4 \u00b5M", 1996, 828, 38),
               ("antimiR-221", " 200 nM", 520, 1650, 44.5),
               ("CisPt", " 2.5 \u00b5M +", 1379, 1571, 44.5), ("antimiR-221", " 200 nM", 1377, 1652, 44.5),
               ("4d", " 4 \u00b5M +", 2233, 1571, 44.5), ("antimiR-221", " 200 nM", 2233, 1652, 44.5),
               ("antimiR-222", " 200 nM", 523, 2691, 44.5),
               ("CisPt", " 2.5 \u00b5M +", 1379, 2608, 44.5), ("antimiR-222", " 200 nM", 1379, 2691, 44.5),
               ("4d", " 4 \u00b5M +", 2235, 2608, 44.5), ("antimiR-222", " 200 nM", 2235, 2691, 44.5)]

W, H = 2648, 3637
RED = "#f5222d"
DOT = "#f01c14"
CORE = "#e8330f"
LIVE_BG = "#e9f2cf"
INK = "#2a2a2a"
LABEL_FONT = ["Lato", "DejaVu Sans"]
QUAD_FONT = ["Liberation Sans", "DejaVu Sans"]

sns.set_theme(style="ticks")
plt.rcParams["font.family"] = LABEL_FONT

fig = plt.figure(figsize=(W / 100, H / 100), dpi=100, facecolor="white")
renderer = fig.canvas.get_renderer()

minor_pos = [d + np.log10(k) for d in range(4) for k in range(2, 10)]


def draw_panel(i):
    left, right, top, bottom = frames[i]
    big = i >= 6
    ax = fig.add_axes([left / W, 1 - bottom / H, (right - left) / W, (bottom - top) / H])
    ax.set_xlim(-0.02, 4.02)
    ax.set_ylim(-0.02, 4.02)
    ax.add_patch(plt.Rectangle((-0.02, -0.02), 1.78, 1.10, color=LIVE_BG, lw=0, zorder=0))

    core, mass, dots = panel_points[i]
    core_df = pd.DataFrame(core, columns=["annexin", "viability"])
    mass_df = pd.DataFrame(mass, columns=["annexin", "viability"])
    dots_df = pd.DataFrame(dots, columns=["annexin", "viability"])
    sns.scatterplot(data=core_df, x="annexin", y="viability", ax=ax, s=500 if big else 270,
                    color=CORE, linewidth=0, legend=False, zorder=2)
    sns.scatterplot(data=mass_df, x="annexin", y="viability", ax=ax, s=70 if big else 42, marker="s",
                    color=CORE, linewidth=0, legend=False, zorder=2)
    sns.scatterplot(data=dots_df, x="annexin", y="viability", ax=ax, s=14 if big else 8, marker="s",
                    color=DOT, linewidth=0, legend=False, zorder=3)

    line_w = 4.5 if big else 3.5
    ax.axvline(1.76, color=RED, lw=line_w, zorder=4)
    ax.axhline(1.08, color=RED, lw=line_w, zorder=4)

    ax.set_xticks(range(5))
    ax.set_yticks(range(5))
    ax.set_xticks(minor_pos, minor=True)
    ax.set_yticks(minor_pos, minor=True)
    tick_size = 36 if big else 40
    ax.tick_params(which="major", length=9, width=1.6, color=INK, labelsize=tick_size, pad=8, labelcolor="#111111")
    ax.tick_params(which="minor", length=5, width=1.4, color=INK)
    for lab in ax.get_xticklabels() + ax.get_yticklabels():
        lab.set_fontweight(900)
    for side in ax.spines.values():
        side.set_linewidth(2.4)
        side.set_color(INK)

    ax.set_xlabel("ANNEXIN V", fontsize=35.5 if big else 36, color="#222222")
    ax.set_ylabel("VIABILITY", fontsize=35 if big else 36, color="#222222")
    if big:
        ax.xaxis.set_label_coords(0.52, -0.14)
        ax.yaxis.set_label_coords(-0.134, 0.484)
    else:
        ax.xaxis.set_label_coords(0.5, -0.145)
        ax.yaxis.set_label_coords(-0.13, 0.5)

    size = 28 if big else 23
    live_size = 33 if big else 24
    top_y, pct_y = (0.946, 0.88) if big else (0.958, 0.888)
    kw = dict(transform=ax.transAxes, family=QUAD_FONT, va="center", color=INK, zorder=6)
    bold = dict(kw, fontsize=size, fontweight="bold")
    reg = dict(kw, fontsize=live_size, color="#3c3c3c")
    ax.text(0.015, top_y, "Dead", ha="left", **bold)
    ax.text(0.015, pct_y, f"{dead_pct[i]} %", ha="left", **bold)
    ax.text(0.978, top_y, "Late Apop./Dead", ha="right", **bold)
    ax.text(0.978, pct_y, f"{late_pct[i]} %", ha="right", **bold)
    ax.text(0.978, 0.129, f"{early_pct[i]} %", ha="right", **bold)
    ax.text(0.978, 0.055, "Early Apop.", ha="right", **bold)
    ax.text(0.02, 0.136, f"{live_pct[i]} %", ha="left", **reg)
    ax.text(0.02, 0.052, "Live", ha="left", **reg)


def draw_title(strong, plain, cx, cy, size):
    # bold and regular runs are measured so the pair can be centred together
    first = fig.text(0, 1 - cy / H, strong, fontsize=size, fontweight="bold", va="center", color="#111111")
    first_w = first.get_window_extent(renderer).width
    second_w = 0
    if plain:
        # keep the leading space when measuring
        second = fig.text(0, 1 - cy / H, plain.replace(" ", "\u00a0", 1), fontsize=size, va="center", color="#111111")
        second_w = second.get_window_extent(renderer).width
        second.set_x((cx - (first_w + second_w) / 2 + first_w) / W)
    first.set_x((cx - (first_w + second_w) / 2) / W)


for i in range(len(frames)):
    draw_panel(i)
for line in title_lines:
    draw_title(*line)

fig.savefig("out.png", dpi=100)
plt.close(fig)
